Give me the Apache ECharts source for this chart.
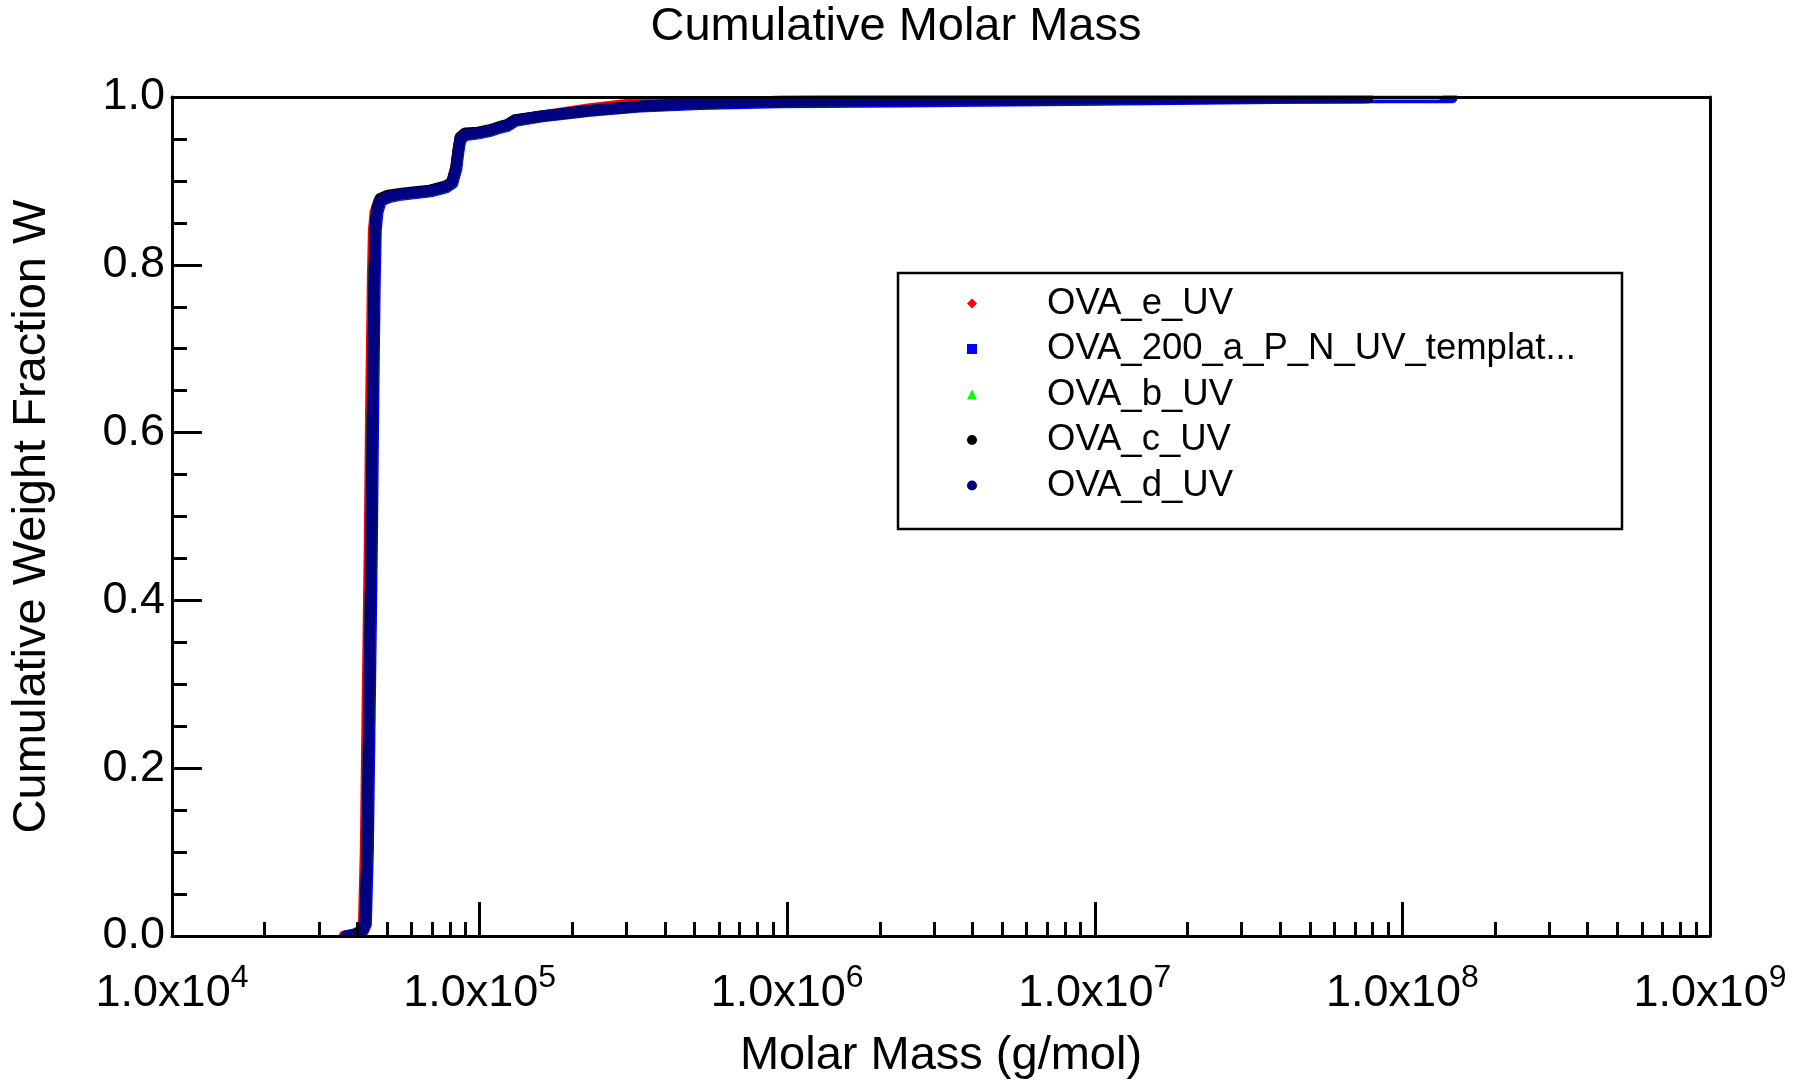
<!DOCTYPE html>
<html>
<head>
<meta charset="utf-8">
<script src="https://cdn.jsdelivr.net/npm/echarts@6/dist/echarts.min.js"></script>
<style>html,body{margin:0;padding:0;background:#fff}#c{width:1808px;height:1085px}</style>
</head>
<body>
<div id="c"></div>
<script>
// ---------- data ----------
const seriesNames = ['OVA_e_UV', 'OVA_200_a_P_N_UV_templat...', 'OVA_b_UV', 'OVA_c_UV', 'OVA_d_UV'];

// OVA_e_UV
const eM = [36300, 38900, 41000, 41900, 42500, 43100, 43750, 44250, 44800, 45150, 45700, 47000, 50000, 55000, 61500, 69000, 77500, 81000, 83500, 85000, 86300, 89500, 98800, 108000, 116500, 122800, 130300, 157200, 228500, 300000, 520600, 947600, 2327000, 10390000, 40000000];
const eW = [0.000, 0.002, 0.006, 0.014, 0.102, 0.281, 0.460, 0.639, 0.782, 0.841, 0.862, 0.876, 0.881, 0.884, 0.886, 0.888, 0.893, 0.898, 0.915, 0.935, 0.950, 0.955, 0.957, 0.960, 0.964, 0.966, 0.972, 0.977, 0.986, 0.991, 0.9926, 0.9948, 0.9960, 0.9975, 0.9985];

// OVA_200_a_P_N_UV_templat...
const aM = [37000, 39700, 41900, 42850, 43500, 44150, 44800, 45300, 45800, 46150, 46700, 47900, 50800, 55500, 62000, 69400, 78200, 81800, 84300, 85600, 86900, 90100, 99300, 108600, 117000, 123300, 130800, 157800, 229000, 333000, 521000, 948000, 2330000, 10400000, 46500000, 88000000, 145000000];
const aW = [0.000, 0.002, 0.006, 0.014, 0.102, 0.281, 0.460, 0.639, 0.782, 0.841, 0.862, 0.876, 0.880, 0.883, 0.885, 0.887, 0.892, 0.897, 0.914, 0.934, 0.949, 0.954, 0.956, 0.959, 0.963, 0.965, 0.971, 0.976, 0.983, 0.988, 0.991, 0.993, 0.994, 0.996, 0.9985, 0.999, 0.999];

// OVA_b_UV
const bM = [36800, 39340, 41460, 42400, 43040, 43690, 44350, 44850, 45360, 45700, 46220, 47450, 50380, 55110, 61660, 69010, 77770, 81340, 83810, 85080, 86360, 89650, 98810, 108100, 116500, 122800, 130300, 157200, 228500, 332300, 520600, 947600, 2327000, 10390000, 46470000, 80000000, 130000000];
const bW = [0.000, 0.002, 0.006, 0.014, 0.102, 0.281, 0.460, 0.639, 0.782, 0.841, 0.862, 0.876, 0.881, 0.884, 0.886, 0.888, 0.893, 0.898, 0.915, 0.935, 0.950, 0.955, 0.957, 0.960, 0.964, 0.966, 0.972, 0.977, 0.984, 0.989, 0.9925, 0.995, 0.9962, 0.9978, 0.9990, 1.003, 1.003];

// OVA_c_UV
const cM = [36800, 39340, 41460, 42400, 43040, 43690, 44350, 44850, 45360, 45700, 46220, 47450, 50380, 55110, 61660, 69010, 77770, 81340, 83810, 85080, 86360, 89650, 98810, 108100, 116500, 122800, 130300, 157200, 228500, 332300, 520600, 947600, 2327000, 10390000, 46470000, 77270000];
const cW = [0.000, 0.002, 0.006, 0.014, 0.102, 0.281, 0.460, 0.639, 0.782, 0.843, 0.866, 0.879, 0.883, 0.885, 0.887, 0.889, 0.894, 0.899, 0.917, 0.937, 0.952, 0.957, 0.958, 0.961, 0.965, 0.967, 0.973, 0.977, 0.984, 0.989, 0.9925, 0.995, 0.9962, 0.9978, 0.9990, 0.9991];

// OVA_d_UV
const dM = [36800, 39340, 41460, 42400, 43040, 43690, 44350, 44850, 45360, 45700, 46220, 47450, 50380, 55110, 61660, 69010, 77770, 81340, 83810, 85080, 86360, 89650, 98810, 108100, 116500, 122800, 130300, 157200, 228500, 332300, 520600, 947600, 2327000, 10390000, 46470000, 75580000];
const dW = [0.000, 0.002, 0.006, 0.014, 0.102, 0.281, 0.460, 0.639, 0.782, 0.841, 0.862, 0.876, 0.881, 0.884, 0.886, 0.888, 0.893, 0.898, 0.915, 0.935, 0.950, 0.955, 0.957, 0.960, 0.964, 0.966, 0.972, 0.977, 0.984, 0.989, 0.9925, 0.995, 0.9962, 0.9978, 0.9990, 0.9990];

// axis ticks
const xMajorTicks = [1e4, 1e5, 1e6, 1e7, 1e8, 1e9];
const xTickExponents = ['4', '5', '6', '7', '8', '9'];
const xMinorTicks = [2e4, 3e4, 4e4, 5e4, 6e4, 7e4, 8e4, 9e4,
                     2e5, 3e5, 4e5, 5e5, 6e5, 7e5, 8e5, 9e5,
                     2e6, 3e6, 4e6, 5e6, 6e6, 7e6, 8e6, 9e6,
                     2e7, 3e7, 4e7, 5e7, 6e7, 7e7, 8e7, 9e7,
                     2e8, 3e8, 4e8, 5e8, 6e8, 7e8, 8e8, 9e8];
const yMin = 0, yMax = 1, yInterval = 0.2;

// ---------- chart ----------
const FONT = "'Liberation Sans', Arial, sans-serif";
const colors = ['#ff0000', '#0000ff', '#00ff00', '#000000', '#000080'];
const icons = ['diamond', 'rect', 'triangle', 'circle', 'circle'];
const seriesM = [eM, aM, bM, cM, dM];
const seriesW = [eW, aW, bW, cW, dW];

function pairs(M, W) { return M.map((m, i) => [m, W[i]]); }

const series = seriesNames.map((name, k) => ({
  name: name,
  type: 'line',
  xAxisIndex: 0,
  yAxisIndex: 0,
  data: pairs(seriesM[k], seriesW[k]),
  showSymbol: false,
  symbol: 'none',
  clip: true,
  color: colors[k],
  itemStyle: { color: colors[k] },
  lineStyle: { color: colors[k], width: 11, cap: 'round', join: 'round' },
  z: 2 + k,
  animation: false
}));

const chart = echarts.init(document.getElementById('c'), null, { renderer: 'canvas' });
const axisBlack = { color: '#000', width: 3 };

// plot-area geometry (used only for the frame masks and legend box)
const G = { left: 172, right: 98, top: 97, bottom: 149 };
const W_ = 1808, H_ = 1085;

chart.setOption({
  animation: false,
  backgroundColor: '#fff',
  textStyle: { fontFamily: FONT },
  title: {
    text: 'Cumulative Molar Mass',
    left: 896, top: 4, padding: 0, textAlign: 'center',
    textStyle: { fontFamily: FONT, fontSize: 47, fontWeight: 'normal', color: '#000' }
  },
  grid: { left: G.left, right: G.right, top: G.top, bottom: G.bottom, containLabel: false, outerBoundsMode: 'none' },
  legend: {
    orient: 'vertical',
    left: 967, top: 285, padding: 0,
    itemWidth: 10, itemHeight: 10, itemGap: 8.5,
    selectedMode: false,
    data: seriesNames.map((n, k) => ({ name: n, icon: icons[k], itemStyle: { color: colors[k] } })),
    textStyle: { fontFamily: FONT, fontSize: 36.5, lineHeight: 36, color: '#000', padding: [0, 0, 0, 65] }
  },
  graphic: [
    { // mask: keep thick marker band inside the frame (top)
      type: 'rect', z: 50, silent: true,
      shape: { x: G.left - 2, y: 55, width: W_ - G.left - G.right + 4, height: G.top - 1.5 - 55 },
      style: { fill: '#fff' }
    },
    { // mask: keep thick marker band inside the frame (bottom)
      type: 'rect', z: 50, silent: true,
      shape: { x: G.left - 2, y: H_ - G.bottom + 1.5, width: W_ - G.left - G.right + 4, height: 8 },
      style: { fill: '#fff' }
    },
    {
      type: 'rect', z: 100,
      shape: { x: 898, y: 273, width: 724, height: 256 },
      style: { fill: 'none', stroke: '#000', lineWidth: 2.5 }
    }
  ],
  xAxis: [
    {
      type: 'log', logBase: 10, min: xMajorTicks[0], max: xMajorTicks[xMajorTicks.length - 1],
      position: 'bottom', z: 60,
      name: 'Molar Mass (g/mol)', nameLocation: 'middle', nameGap: 97,
      nameTextStyle: { fontFamily: FONT, fontSize: 47, color: '#000' },
      axisLine: { show: true, onZero: false, lineStyle: axisBlack },
      axisTick: { show: true, inside: true, length: 34, lineStyle: axisBlack, customValues: xMajorTicks },
      minorTick: { show: false },
      splitLine: { show: false },
      axisLabel: {
        show: true, margin: 26, color: '#000', customValues: xMajorTicks,
        fontFamily: FONT, fontSize: 45, lineHeight: 64,
        formatter: function (v) {
          const e = Math.round(Math.log10(v));
          const idx = xMajorTicks.findIndex(t => Math.round(Math.log10(t)) === e);
          return '{b|1.0x10}{s|' + xTickExponents[idx] + '}';
        },
        rich: {
          b: { fontFamily: FONT, fontSize: 45, lineHeight: 64, color: '#000' },
          s: { fontFamily: FONT, fontSize: 32, lineHeight: 34, verticalAlign: 'top', color: '#000' }
        }
      }
    },
    {
      type: 'log', logBase: 10, min: xMajorTicks[0], max: xMajorTicks[xMajorTicks.length - 1],
      position: 'bottom', z: 60,
      axisLine: { show: false },
      axisTick: { show: true, inside: true, length: 14, lineStyle: axisBlack, customValues: xMinorTicks },
      axisLabel: { show: false },
      splitLine: { show: false }
    },
    {
      type: 'log', logBase: 10, min: xMajorTicks[0], max: xMajorTicks[xMajorTicks.length - 1],
      position: 'top', z: 60,
      axisLine: { show: true, onZero: false, lineStyle: axisBlack },
      axisTick: { show: false }, axisLabel: { show: false }, splitLine: { show: false }
    }
  ],
  yAxis: [
    {
      type: 'value', min: yMin, max: yMax, interval: yInterval, position: 'left', z: 60,
      name: 'Cumulative Weight Fraction W', nameLocation: 'middle', nameGap: 116,
      nameTextStyle: { fontFamily: FONT, fontSize: 47, color: '#000' },
      axisLine: { show: true, onZero: false, lineStyle: axisBlack },
      axisTick: { show: true, inside: true, length: 30, lineStyle: axisBlack },
      minorTick: { show: true, splitNumber: 4, length: 15, lineStyle: axisBlack },
      splitLine: { show: false },
      axisLabel: {
        margin: 7, color: '#000', fontFamily: FONT, fontSize: 45,
        formatter: v => v.toFixed(1)
      }
    },
    {
      type: 'value', min: yMin, max: yMax, position: 'right', z: 60,
      axisLine: { show: true, onZero: false, lineStyle: axisBlack },
      axisTick: { show: false }, axisLabel: { show: false }, splitLine: { show: false }
    }
  ],
  series: series
});
</script>
</body>
</html>
